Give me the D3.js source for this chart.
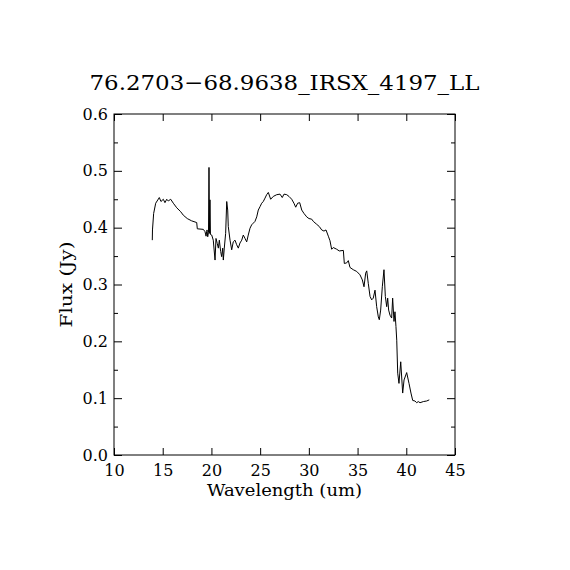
<!DOCTYPE html>
<html>
<head>
<meta charset="utf-8">
<script src="https://cdn.jsdelivr.net/npm/d3@7"></script>
<style>
  body { margin: 0; background: #fff; }
  text { font-family: "DejaVu Serif", "Liberation Serif", serif; fill: #000; }
</style>
</head>
<body>
<div id="chart"></div>
<script>
const width = 570
const height = 570
const margin = {top: 114, bottom: 115, left: 114, right: 115}
const netWidth = width - margin.left - margin.right
const netHeight = height - margin.top - margin.bottom

// Spectrum
const wavelength = [13.93, 13.95, 14.07, 14.28, 14.65, 14.82, 15.06, 15.23, 15.41, 15.57, 15.82, 16.09, 16.44, 16.85, 17.11, 17.52, 17.97, 18.49, 18.55, 19.17, 19.34,
  19.45, 19.51, 19.55, 19.62, 19.70, 19.75, 19.80, 19.85, 19.90, 20.03, 20.19, 20.37, 20.47, 20.60, 20.71, 20.81, 20.95, 21.05, 21.16, 21.22, 21.32, 21.46, 21.57, 21.67, 21.73,
  21.91, 22.08, 22.24, 22.42, 22.59, 22.76, 22.93, 23.11, 23.27, 23.45, 23.62, 23.78, 23.96, 24.13, 24.30, 24.47, 24.65, 24.81, 24.99, 25.16, 25.32, 25.50, 25.67, 25.84,
  26.08, 26.35, 26.70, 27.04, 27.27, 27.45, 27.73, 27.96, 28.24, 28.47, 28.65, 28.85, 29.06, 29.27, 29.50, 29.78, 30.01, 30.29, 30.46, 30.80, 31.07, 31.32, 31.55, 31.76,
  32.00, 32.17, 32.34, 32.51, 32.86, 33.12, 33.54, 33.64, 33.88, 34.05, 34.22, 34.56, 34.91, 35.25, 35.49, 35.66, 35.83, 35.94, 36.10, 36.28, 36.45, 36.61, 36.79, 36.96,
  37.13, 37.23, 37.37, 37.54, 37.71, 37.85, 37.99, 38.09, 38.19, 38.33, 38.50, 38.60, 38.74, 38.84, 38.94, 39.02, 39.12, 39.25, 39.43, 39.63, 39.77, 40.04, 40.28, 40.48,
  40.66, 40.89, 41.07, 41.23, 41.41, 41.75, 42.09, 42.36]
const flux = [0.378, 0.396, 0.425, 0.443, 0.453, 0.446, 0.450, 0.444, 0.450, 0.447, 0.450, 0.443, 0.435, 0.428, 0.422, 0.416, 0.412, 0.409, 0.398, 0.397, 0.393,
  0.385, 0.393, 0.396, 0.384, 0.392, 0.506, 0.390, 0.449, 0.388, 0.387, 0.378, 0.343, 0.381, 0.372, 0.364, 0.378, 0.358, 0.349, 0.364, 0.343, 0.364, 0.390, 0.446, 0.431, 0.402,
  0.378, 0.361, 0.375, 0.378, 0.370, 0.364, 0.373, 0.378, 0.387, 0.381, 0.375, 0.387, 0.399, 0.405, 0.408, 0.411, 0.419, 0.431, 0.437, 0.443, 0.446, 0.452, 0.458, 0.462,
  0.450, 0.455, 0.458, 0.459, 0.453, 0.459, 0.458, 0.455, 0.450, 0.443, 0.436, 0.443, 0.444, 0.431, 0.425, 0.419, 0.416, 0.415, 0.411, 0.406, 0.402, 0.396, 0.394, 0.396,
  0.385, 0.377, 0.362, 0.365, 0.362, 0.359, 0.360, 0.337, 0.338, 0.342, 0.330, 0.326, 0.323, 0.317, 0.308, 0.296, 0.320, 0.324, 0.302, 0.279, 0.273, 0.276, 0.290, 0.261,
  0.243, 0.238, 0.255, 0.296, 0.326, 0.279, 0.261, 0.276, 0.255, 0.246, 0.241, 0.276, 0.235, 0.252, 0.226, 0.202, 0.144, 0.126, 0.164, 0.109, 0.132, 0.145, 0.126, 0.109,
  0.096, 0.095, 0.092, 0.094, 0.092, 0.094, 0.095, 0.097]

const xTicks = [10, 15, 20, 25, 30, 35, 40, 45]
const yTicks = [0.0, 0.1, 0.2, 0.3, 0.4, 0.5, 0.6]
const yMinorTicks = [0.05, 0.15, 0.25, 0.35, 0.45, 0.55]
const title = "76.2703\u221268.9638_IRSX_4197_LL"

const svg = d3.select("div#chart").append("svg").attr("width", width).attr("height", height)
const elementGroup = svg.append("g").attr("transform", `translate(${margin.left}, ${margin.top})`)

const x = d3.scaleLinear().domain([10, 45]).range([0, netWidth])
const y = d3.scaleLinear().domain([0, 0.6]).range([netHeight, 0])

// Ticks point inward on all four sides
function styleAxis(g) {
    g.select(".domain").remove()
    g.selectAll("line").attr("stroke", "#000").attr("stroke-width", 1)
}

const bottom = elementGroup.append("g").attr("transform", `translate(0, ${netHeight})`)
    .call(d3.axisBottom(x).tickValues(xTicks).tickSize(-7).tickSizeOuter(0).tickPadding(10).tickFormat(d3.format("d")))
bottom.call(styleAxis)
bottom.selectAll("text").attr("font-size", 16)

elementGroup.append("g")
    .call(d3.axisTop(x).tickValues(xTicks).tickSize(-7).tickSizeOuter(0).tickFormat(""))
    .call(styleAxis)

const left = elementGroup.append("g")
    .call(d3.axisLeft(y).tickValues(yTicks).tickSize(-8).tickSizeOuter(0).tickPadding(6).tickFormat(d3.format(".1f")))
left.call(styleAxis)
left.selectAll("text").attr("font-size", 16)

elementGroup.append("g").attr("transform", `translate(${netWidth}, 0)`)
    .call(d3.axisRight(y).tickValues(yTicks).tickSize(-8).tickSizeOuter(0).tickFormat(""))
    .call(styleAxis)

elementGroup.append("g")
    .call(d3.axisLeft(y).tickValues(yMinorTicks).tickSize(-4).tickSizeOuter(0).tickFormat(""))
    .call(styleAxis)
elementGroup.append("g").attr("transform", `translate(${netWidth}, 0)`)
    .call(d3.axisRight(y).tickValues(yMinorTicks).tickSize(-4).tickSizeOuter(0).tickFormat(""))
    .call(styleAxis)

// Frame
elementGroup.append("rect")
    .attr("x", 0).attr("y", 0).attr("width", netWidth).attr("height", netHeight)
    .attr("fill", "none").attr("stroke", "#000").attr("stroke-width", 1)

// Spectrum line
const points = wavelength.map((w, i) => [w, flux[i]])
elementGroup.append("path")
    .datum(points)
    .attr("fill", "none")
    .attr("stroke", "#000")
    .attr("stroke-width", 1)
    .attr("d", d3.line().x(d => x(d[0])).y(d => y(d[1])))

// Labels
svg.append("text")
    .attr("x", margin.left + netWidth / 2).attr("y", 90)
    .attr("text-anchor", "middle").attr("font-size", 21)
    .attr("textLength", 390).attr("lengthAdjust", "spacingAndGlyphs")
    .text(title)

svg.append("text")
    .attr("x", margin.left + netWidth / 2).attr("y", 496)
    .attr("text-anchor", "middle").attr("font-size", 16)
    .attr("textLength", 155).attr("lengthAdjust", "spacingAndGlyphs")
    .text("Wavelength (um)")

svg.append("text")
    .attr("transform", `translate(72, ${margin.top + netHeight / 2}) rotate(-90)`)
    .attr("text-anchor", "middle").attr("font-size", 16)
    .attr("textLength", 86).attr("lengthAdjust", "spacingAndGlyphs")
    .text("Flux (Jy)")
</script>
</body>
</html>
